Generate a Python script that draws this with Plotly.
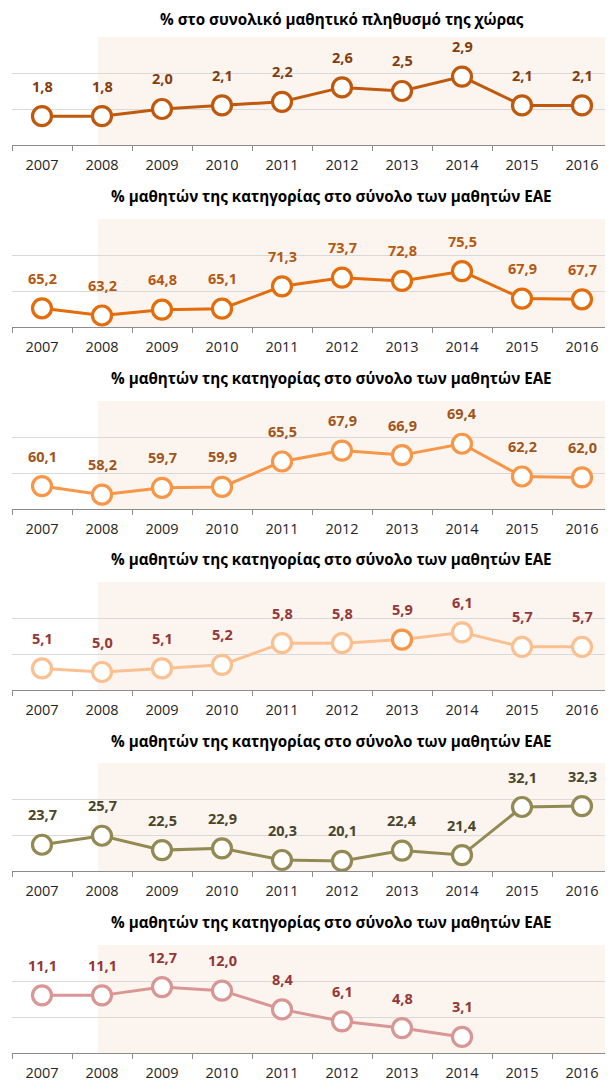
import plotly.graph_objects as go

years = ["2007", "2008", "2009", "2010", "2011", "2012", "2013", "2014", "2015", "2016"]

title_total = "% στο συνολικό μαθητικό πληθυσμό της χώρας"
title_share = "% μαθητών της κατηγορίας στο σύνολο των μαθητών ΕΑΕ"
titles = [title_total, title_share, title_share, title_share, title_share, title_share]

s1 = [1.8, 1.8, 2.0, 2.1, 2.2, 2.6, 2.5, 2.9, 2.1, 2.1]
s2 = [65.2, 63.2, 64.8, 65.1, 71.3, 73.7, 72.8, 75.5, 67.9, 67.7]
s3 = [60.1, 58.2, 59.7, 59.9, 65.5, 67.9, 66.9, 69.4, 62.2, 62.0]
s4 = [5.1, 5.0, 5.1, 5.2, 5.8, 5.8, 5.9, 6.1, 5.7, 5.7]
s5 = [23.7, 25.7, 22.5, 22.9, 20.3, 20.1, 22.4, 21.4, 32.1, 32.3]
s6 = [11.1, 11.1, 12.7, 12.0, 8.4, 6.1, 4.8, 3.1, None, None]
series = [s1, s2, s3, s4, s5, s6]

line_colors = ["#C0590C", "#E46C0A", "#F79646", "#FAC090", "#938953", "#D99694"]
label_colors = ["#843C0C", "#B35A12", "#A0561A", "#953735", "#4A452A", "#953735"]
highlight = {3: (6, "#F79646")}  # panel 4, year 2013 marker outline

y_ranges = [[1, 4], [60, 90], [55.05, 78.8], [4.5, 7.5], [17.85, 41.9], [0, 20.8]]

# page has an 8px body margin: figure coordinates are page coordinates minus 8
OFF = 8
W, H = 613 - OFF, 1086 - OFF
plot_tops = [37, 219, 401, 582, 763, 945]
plot_h = 108
title_ys = [19, 196, 378, 559, 741, 922]
title_xs = [342, 331, 331, 331, 331, 331]
x_left, x_right = 12, 612

FONT = "Open Sans"
fig = go.Figure()
annotations = []
shapes = []
layout = {}

for i in range(6):
    n = "" if i == 0 else str(i + 1)
    xref, yref = "x" + n, "y" + n
    vals = series[i]
    outline = [line_colors[i]] * len(vals)
    if i in highlight:
        k, c = highlight[i]
        outline[k] = c
    fig.add_trace(go.Scatter(
        x=years, y=vals, xaxis=xref, yaxis=yref, mode="lines+markers",
        line=dict(color=line_colors[i], width=3),
        marker=dict(size=19, color="white", line=dict(color=outline, width=3.2)),
        cliponaxis=False, showlegend=False, hoverinfo="skip", connectgaps=False,
    ))
    top = plot_tops[i] - OFF
    dom_y = [1 - (top + plot_h) / H, 1 - top / H]
    lo, hi = y_ranges[i]
    step = (hi - lo) / 3
    layout["xaxis" + n] = dict(
        domain=[(x_left - OFF) / W, min(1, (x_right - OFF) / W)], anchor=yref,
        type="category", categoryorder="array", categoryarray=years,
        range=[-0.5, 9.5], tickson="boundaries", ticks="outside", ticklen=5,
        tickcolor="#8c8c8c", showline=True, linecolor="#8c8c8c", linewidth=1,
        showgrid=False, tickfont=dict(family=FONT, size=14.5, color="#262626"),
        ticklabelstandoff=7, fixedrange=True,
    )
    layout["yaxis" + n] = dict(
        domain=dom_y, anchor=xref, range=[lo, hi],
        tickvals=[lo + step, lo + 2 * step, hi], showticklabels=False,
        showgrid=True, gridcolor="#d9d9d9", gridwidth=1, zeroline=False,
        showline=False, fixedrange=True,
    )
    shapes.append(dict(type="rect", xref=xref, yref=yref + " domain",
                       x0=0.93, x1=9.5, y0=0, y1=1, fillcolor="#FBF4EF",
                       line=dict(width=0), layer="below"))
    for k, v in enumerate(vals):
        if v is None:
            continue
        annotations.append(dict(
            x=k, y=v, xref=xref, yref=yref, yshift=30, showarrow=False,
            text="<b>" + f"{v:.1f}".replace(".", ",") + "</b>",
            font=dict(family=FONT, size=14.5, color=label_colors[i]),
            xanchor="center", yanchor="middle",
        ))
    annotations.append(dict(
        x=(title_xs[i] - OFF) / W, y=1 - (title_ys[i] - OFF) / H,
        xref="paper", yref="paper",
        showarrow=False, text="<b>" + titles[i] + "</b>",
        font=dict(family=FONT, size=15.2, color="#000000"),
        xanchor="center", yanchor="middle", borderpad=0,
    ))

fig.update_layout(
    width=W, height=H, margin=dict(l=0, r=0, t=0, b=0),
    paper_bgcolor="white", plot_bgcolor="rgba(0,0,0,0)",
    annotations=annotations, shapes=shapes, **layout,
)
fig.write_html("out.html", config={"displayModeBar": False})
